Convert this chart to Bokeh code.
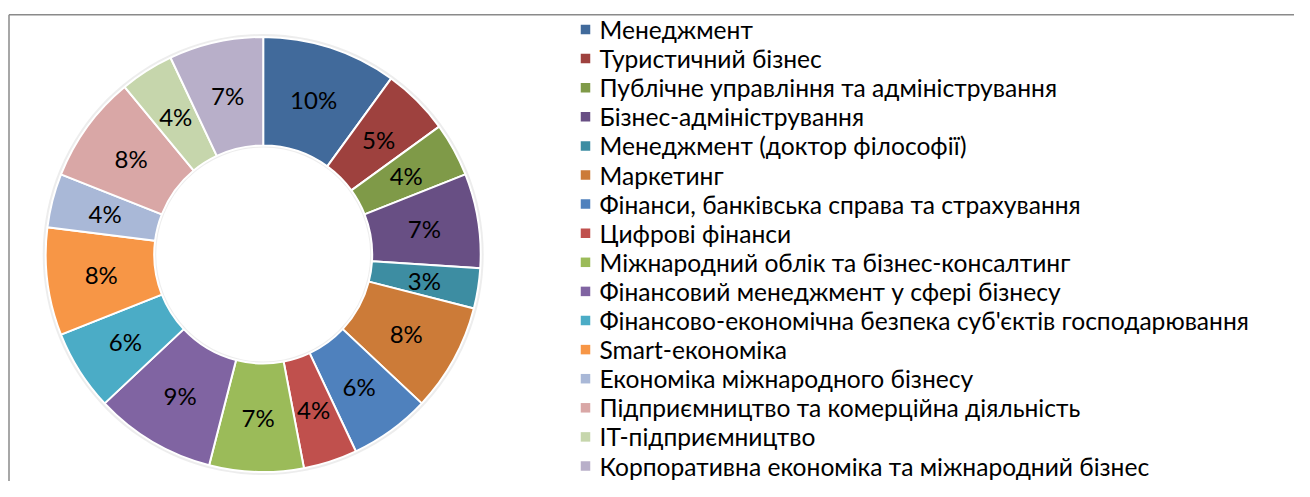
import numpy as np
from bokeh.plotting import figure
from bokeh.models import Range1d, ColumnDataSource
from bokeh.core.properties import value
from bokeh.embed import file_html
from bokeh.resources import INLINE

# ---------------- data ----------------
categories = [
    "Менеджмент",
    "Туристичний бізнес",
    "Публічне управління та адміністрування",
    "Бізнес-адміністрування",
    "Менеджмент (доктор філософії)",
    "Маркетинг",
    "Фінанси, банківська справа та страхування",
    "Цифрові фінанси",
    "Міжнародний облік та бізнес-консалтинг",
    "Фінансовий менеджмент у сфері бізнесу",
    "Фінансово-економічна безпека суб'єктів господарювання",
    "Smart-економіка",
    "Економіка міжнародного бізнесу",
    "Підприємництво та комерційна діяльність",
    "ІТ-підприємництво",
    "Корпоративна економіка та міжнародний бізнес",
]
shares = [10, 5, 4, 7, 3, 8, 6, 4, 7, 9, 6, 8, 4, 8, 4, 7]
colors = [
    "#416A9B", "#9E413E", "#7F9A48", "#684F84", "#3D8DA2", "#CC7B38",
    "#4F81BD", "#C0504D", "#9BBB59", "#8064A2", "#4BACC6", "#F79646",
    "#A9B8D7", "#D9A7A6", "#C6D6AC", "#B8AFC9",
]

# ---------------- layout (pixels) ----------------
W, H = 1294, 481
CX, CY = 262.7, 254          # donut centre from figure left / top
R_OUT, R_IN = 217.5, 109
FONT = "Lato"

p = figure(width=W, height=H, output_backend="svg", toolbar_location=None,
           x_range=Range1d(-CX, W - CX), y_range=Range1d(-(H - CY), CY),
           x_axis_location=None, y_axis_location=None,
           min_border=0, min_border_left=0, min_border_right=0,
           min_border_top=0, min_border_bottom=0)
p.grid.visible = False
p.outline_line_color = None
p.background_fill_color = "white"
p.border_fill_color = "white"

# chart-area frame (top and left edges visible)
top_y = CY - 14.3
left_x = -CX + 8.5
p.segment(x0=[left_x, left_x], y0=[top_y, top_y], x1=[W - CX, left_x], y1=[top_y, -(H - CY)],
          line_color="#8A8A8A", line_width=1.5)

# ---------------- donut ----------------
vals = np.array(shares, dtype=float)
frac = vals / vals.sum()
cum = np.cumsum(frac)
start = np.pi / 2 - 2 * np.pi * np.concatenate([[0.0], cum[:-1]])
end = np.pi / 2 - 2 * np.pi * cum
mid = (start + end) / 2
r_mid = (R_OUT + R_IN) / 2

# faint shadow ring
p.annular_wedge(x=0, y=0, inner_radius=R_IN - 2, outer_radius=R_OUT + 3,
                start_angle=0, end_angle=2 * np.pi, fill_color="#E6E6E6",
                line_color=None, fill_alpha=0.7)

src = ColumnDataSource(dict(
    start=start, end=end, color=colors, cat=categories,
    lx=r_mid * np.cos(mid), ly=r_mid * np.sin(mid),
    lbl=[f"{round(f * 100)}%" for f in frac],
))
p.annular_wedge(x=0, y=0, inner_radius=R_IN, outer_radius=R_OUT,
                start_angle="start", end_angle="end", direction="clock",
                fill_color="color", line_color="white", line_width=2, source=src)
p.text(x="lx", y="ly", text="lbl", source=src, text_align="center",
       text_baseline="middle", text_font=value(FONT), text_font_size="24px",
       text_color="#000000")

# ---------------- legend ----------------
PITCH = 29.1
leg_top = CY - 29
sq_x = 585 - CX
txt_x = 599 - CX
idx = np.arange(len(categories))
leg = ColumnDataSource(dict(
    y=leg_top - idx * PITCH, sx=np.full(len(categories), sq_x),
    tx=np.full(len(categories), txt_x), color=colors, cat=categories,
))
p.rect(x="sx", y="y", width=9.5, height=9.5, fill_color="color", line_color=None, source=leg)
p.text(x="tx", y="y", text="cat", source=leg, text_align="left",
       text_baseline="middle", text_font=value(FONT), text_font_size="24.6px",
       text_color="#000000")

open("out.html", "w").write(file_html(p, INLINE))
